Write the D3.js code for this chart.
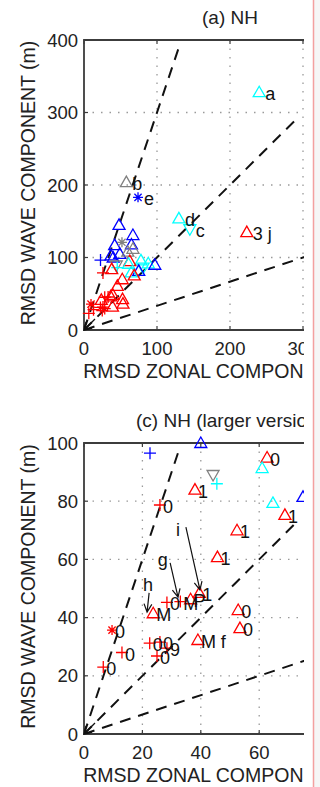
<!DOCTYPE html>
<html>
<head>
<meta charset="utf-8">
<script src="https://cdn.jsdelivr.net/npm/d3@7"></script>
<style>
  html, body { margin: 0; padding: 0; background: #ffffff; }
  svg { display: block; font-family: "Liberation Sans", Arial, Helvetica, sans-serif; }
</style>
</head>
<body>
<div class="graph"></div>
<script>

// RMSD of zonal component (x) and wave component (y), metres
var zonal = [240, 58, 74, 130, 145, 223,
             48, 67, 42, 65, 37, 49, 52, 67, 60, 78, 88, 81, 97, 75,
             22.6, 40, 62.7, 61, 44.2, 45.5, 38, 64.7, 68.8, 52.4, 45.7,
             26, 9.6, 13, 6.6, 22.5, 26, 25, 28.4, 28.4, 33, 36.5, 39.5,
             23.7, 52.8, 53.4, 39];
var wave  = [328, 204, 183, 154, 139, 135,
             145, 131, 117, 118, 103, 105, 121, 112, 108, 96, 92, 86, 90, 81.5,
             96.5, 100, 95, 91.4, 89, 86, 84, 79.4, 75.3, 70, 60.8,
             78.7, 35.7, 28, 23, 31.2, 31.6, 26.8, 29.5, 45.2, 45.5, 46.3, 48.5,
             41.5, 42.6, 36.4, 32.3];
// model group (colour) and marker kind of every point
var group = ["c", "k", "b", "c", "c", "r",
             "b", "b", "b", "b", "b", "b", "k", "k", "k", "c", "c", "c", "b", "b",
             "b", "b", "r", "c", "k", "c", "r", "c", "r", "r", "r",
             "r", "r", "r", "r", "r", "r", "r", "r", "r", "r", "r", "r",
             "r", "r", "r", "r"];
var kind  = ["tri", "tri", "star", "tri", "dtri", "tri",
             "tri", "tri", "tri", "tri", "tri", "tri", "star", "tri", "tri", "tri", "tri", "dtri", "tri", "tri",
             "plus", "tri", "tri", "tri", "dtri", "plus", "tri", "tri", "tri", "tri", "tri",
             "plus", "star", "plus", "plus", "plus", "plus", "plus", "plus", "plus", "plus", "tri", "tri",
             "tri", "tri", "tri", "tri"];
// letters shown in panel (a), codes shown in panel (c)
var tagLabel  = ["a", "b", "e", "d", "c", "3 j"];
var codeLabel = ["", "", "", "", "", "",
                 "", "", "", "", "", "", "", "", "", "", "", "", "", "",
                 "", "", "0", "", "", "", "1", "", "1", "1", "1",
                 "0", "0", "0", "0", "0", "0", "0", "9", "0", "M", "P", "1",
                 "M", "0", "0", "M f"];

// reference lines through the origin (slope, extent in panel (c) units)
var refSlope = [3, 1, 1 / 3];
var refExtent = [32.5, 72, 80];

// annotated arrows in panel (c)
var arrowText = ["i", "g", "h"];
var arrowTextAt = [[32.2, 70.1], [27, 59.8], [21.9, 51.2]];
var arrowFrom = [[34.9, 71.1], [29.5, 58.8], [22.3, 48.5]];
var arrowTo = [[39.7, 49.5], [32.2, 47], [21.6, 41.9]];

var ticksA = [0, 100, 200, 300, 400];
var ticksC = [0, 20, 40, 60, 80, 100];

var colour = d3.scaleOrdinal()
    .domain(["r", "b", "c", "k"])
    .range(["#ff0000", "#0000ff", "#00ffff", "#808080"]);

var svg = d3.select(".graph")
    .append("svg")
    .attr("width", 320)
    .attr("height", 787);

svg.append("rect").attr("width", 320).attr("height", 787).attr("fill", "#ffffff");

// the figure is cut on the right
svg.append("clipPath").attr("id", "crop")
    .append("rect").attr("x", 0).attr("y", 0).attr("width", 304).attr("height", 787);

var fig = svg.append("g").attr("clip-path", "url(#crop)");

svg.append("rect").attr("x", 314).attr("y", 0).attr("width", 6).attr("height", 787).attr("fill", "#f6f6f6");
svg.append("line").attr("x1", 313.5).attr("x2", 313.5).attr("y1", 0).attr("y2", 787)
    .attr("stroke", "#f3a0a0").attr("stroke-width", 1.5);

function markerPath(k) {
    if (k == "tri") return "M0,-6L6,4.5L-6,4.5Z";
    if (k == "dtri") return "M0,6L6,-4.5L-6,-4.5Z";
    if (k == "plus") return "M-6,0H6M0,-6V6";
    // asterisk
    return "M-5,0H5M0,-5V5M-3.6,-3.6L3.6,3.6M-3.6,3.6L3.6,-3.6";
}

drawPanel({
    id: "a", title: "(a) NH", max: 400, ticks: ticksA, top: 40, bottom: 330,
    scaleRef: 4, labels: "tag", dx: 6, arrows: false
});
drawPanel({
    id: "c", title: "(c) NH (larger version)", max: 100, ticks: ticksC, top: 443, bottom: 734,
    scaleRef: 1, labels: "code", dx: 3, arrows: true
});

function drawPanel(p) {
    var x = d3.scaleLinear().domain([0, p.max]).range([84, 376]);
    var y = d3.scaleLinear().domain([0, p.max]).range([p.bottom, p.top]);
    var g = fig.append("g");

    // only the points that fall inside the axes are plotted
    var inside = d3.range(zonal.length).filter(i => zonal[i] <= p.max && wave[i] <= p.max);
    var lab = p.labels == "tag" ? tagLabel : codeLabel;

    fig.append("clipPath").attr("id", "plot" + p.id)
        .append("rect").attr("x", 84).attr("y", p.top).attr("width", 292).attr("height", p.bottom - p.top);

    // dotted grid
    g.selectAll(".gx").data(p.ticks.slice(1)).enter().append("line")
        .attr("x1", d => x(d)).attr("x2", d => x(d))
        .attr("y1", p.top).attr("y2", p.bottom)
        .attr("stroke", "#9a9a9a").attr("stroke-width", 1.3).attr("stroke-dasharray", "1.5,7");
    g.selectAll(".gy").data(p.ticks.slice(1, -1)).enter().append("line")
        .attr("x1", 84).attr("x2", 376)
        .attr("y1", d => y(d)).attr("y2", d => y(d))
        .attr("stroke", "#9a9a9a").attr("stroke-width", 1.3).attr("stroke-dasharray", "1.5,7");

    // box
    g.append("path")
        .attr("d", "M376," + p.top + "H84V" + p.bottom + "H376V" + p.top)
        .attr("fill", "none").attr("stroke", "#3c3c3c").attr("stroke-width", 1.8);
    g.selectAll(".tx").data(p.ticks).enter().append("path")
        .attr("d", d => "M" + x(d) + "," + p.bottom + "v-4M" + x(d) + "," + p.top + "v4")
        .attr("stroke", "#3c3c3c").attr("stroke-width", 1.2);
    g.selectAll(".ty").data(p.ticks).enter().append("path")
        .attr("d", d => "M84," + y(d) + "h4")
        .attr("stroke", "#3c3c3c").attr("stroke-width", 1.2);

    // tick labels
    g.selectAll(".lx").data(p.ticks).enter().append("text")
        .attr("x", d => x(d)).attr("y", p.bottom + 25)
        .attr("text-anchor", "middle").attr("font-size", "18.5px").attr("fill", "#222")
        .text(d => d);
    g.selectAll(".ly").data(p.ticks).enter().append("text")
        .attr("x", 78).attr("y", d => y(d) + 6.5)
        .attr("text-anchor", "end").attr("font-size", "18.5px").attr("fill", "#222")
        .text(d => d);

    // titles
    g.append("text").attr("x", 230).attr("y", p.top - 16)
        .attr("text-anchor", "middle").attr("font-size", "19px").attr("fill", "#222")
        .text(p.title);
    g.append("text").attr("x", 230).attr("y", p.bottom + 48)
        .attr("text-anchor", "middle").attr("font-size", "19.5px").attr("fill", "#222")
        .text("RMSD ZONAL COMPONENT (m)");
    g.append("text")
        .attr("transform", "translate(35," + ((p.top + p.bottom) / 2 - 2) + ") rotate(-90)")
        .attr("text-anchor", "middle").attr("font-size", "19.5px").attr("fill", "#222")
        .text("RMSD WAVE COMPONENT (m)");

    // dashed reference lines
    g.append("g").attr("clip-path", "url(#plot" + p.id + ")")
        .selectAll("line").data(refSlope).enter().append("line")
        .attr("x1", x(0)).attr("y1", y(0))
        .attr("x2", (d, i) => x(refExtent[i] * p.scaleRef))
        .attr("y2", (d, i) => y(refExtent[i] * p.scaleRef * d))
        .attr("stroke", "#111").attr("stroke-width", 2).attr("stroke-dasharray", "11,8");

    // little arrow at the origin
    g.append("path")
        .attr("d", "M" + (x(0) + 11) + "," + (y(0) - 11) + "L" + x(0) + "," + y(0) +
            "M" + (x(0) + 2) + "," + (y(0) - 8) + "L" + x(0) + "," + y(0) + "L" + (x(0) + 8) + "," + (y(0) - 2))
        .attr("fill", "none").attr("stroke", "#111").attr("stroke-width", 1.3);

    // points
    g.selectAll(".pt").data(inside).enter().append("path")
        .attr("transform", i => "translate(" + x(zonal[i]) + "," + y(wave[i]) + ")")
        .attr("d", i => markerPath(kind[i]))
        .attr("fill", "none")
        .attr("stroke", i => colour(group[i]))
        .attr("stroke-width", 1.3);

    // point labels
    g.selectAll(".pl").data(inside.filter(i => lab[i])).enter().append("text")
        .attr("x", i => x(zonal[i]) + p.dx)
        .attr("y", i => y(wave[i]) + 8)
        .attr("font-size", "18px").attr("fill", "#111")
        .text(i => lab[i]);

    if (p.arrows) {
        var ar = g.selectAll(".ar").data(arrowText).enter().append("g");
        ar.append("path")
            .attr("d", function(d, i) {
                var x1 = x(arrowFrom[i][0]), y1 = y(arrowFrom[i][1]);
                var x2 = x(arrowTo[i][0]), y2 = y(arrowTo[i][1]);
                var a = Math.atan2(y2 - y1, x2 - x1), h = 9, s = 0.45;
                return "M" + x1 + "," + y1 + "L" + x2 + "," + y2 +
                    "M" + (x2 - h * Math.cos(a - s)) + "," + (y2 - h * Math.sin(a - s)) +
                    "L" + x2 + "," + y2 +
                    "L" + (x2 - h * Math.cos(a + s)) + "," + (y2 - h * Math.sin(a + s));
            })
            .attr("fill", "none").attr("stroke", "#111").attr("stroke-width", 1.2);
        ar.append("text")
            .attr("x", (d, i) => x(arrowTextAt[i][0]))
            .attr("y", (d, i) => y(arrowTextAt[i][1]) + 6)
            .attr("text-anchor", "middle").attr("font-size", "18px").attr("fill", "#111")
            .text(d => d);
    }
}
</script>
</body>
</html>
